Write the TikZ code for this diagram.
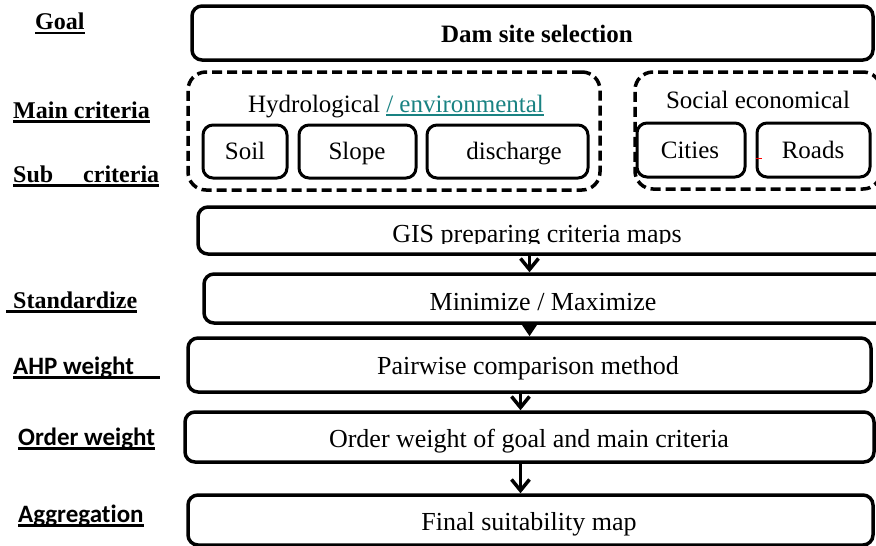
\documentclass[tikz,border=0pt]{standalone}
\usepackage{fontspec}
\setmainfont{Liberation Serif}
\newfontfamily\calfont{Carlito}[Ligatures=NoCommon]
\usetikzlibrary{arrows.meta}

\definecolor{envteal}{RGB}{25,130,130}

\newcommand{\boldul}[1]{\leavevmode\setbox0=\hbox{#1}\rlap{\rule[-4.5pt]{\wd0}{2.6pt}}\box0}
\newcommand{\thinul}[1]{\leavevmode\setbox0=\hbox{#1}\rlap{\rule[-3.5pt]{\wd0}{1.2pt}}\box0}

\begin{document}
\begin{tikzpicture}[x=1pt, y=-1pt,
    box/.style={draw, line width=3.5pt, rounded corners=10pt, inner sep=0pt},
    subbox/.style={draw, line width=3pt, rounded corners=10pt, inner sep=0pt, minimum height=53pt},
    group/.style={draw, line width=3.5pt, dash pattern=on 10pt off 5pt, rounded corners=18pt, inner sep=0pt},
    txt/.style={anchor=base, inner sep=0pt, font=\fontsize{25}{30}\selectfont},
    bigtxt/.style={anchor=base, inner sep=0pt, font=\fontsize{26}{31}\selectfont},
    lab/.style={anchor=base west, inner sep=0pt, font=\fontsize{24}{28}\selectfont\bfseries},
    slab/.style={anchor=base west, inner sep=0pt, font=\fontsize{25}{30}\selectfont\calfont\bfseries},
    flow/.style={line width=3.5pt, -{Straight Barb[length=11pt, width=18pt]}},
    fflow/.style={line width=3.5pt, -{Triangle[length=12pt, width=15pt]}},
  ]

      \useasboundingbox (0,0) rectangle (876,546);

      % left column
      \node[lab] (lgoal) at (35,30) {\boldul{Goal}};
      \node[lab] (lmain) at (13,118) {\boldul{Main criteria}};
      \node[lab] (lsub) at (13,182) {\boldul{Sub\hspace{30pt}criteria}};
      \node[lab] (lstand) at (6,308) {\boldul{\hspace{7pt}Standardize}};
      \node[slab] (lahp) at (13,374) {\boldul{AHP weight\hspace{26pt}}};
      \node[slab] (lorder) at (18,445) {\boldul{Order weight}};
      \node[slab] (laggr) at (18,522) {\boldul{Aggregation}};

      % goal
      \node[box, minimum width=681pt, minimum height=54pt] (goal) at (532.5,33) {};
      \node[bigtxt, font=\fontsize{25}{30}\selectfont\bfseries] (goaltext) at (537,42) {Dam site selection};

      % main and sub criteria
      \node[group, minimum width=412pt, minimum height=118pt] (hydro) at (394,131) {};
      \node[txt] (hydrotitle) at (396,112) {Hydrological \textcolor{envteal}{\thinul{/ environmental}}};
      \node[subbox, minimum width=84pt] (soil) at (245,151.5) {};
      \node[subbox, minimum width=117pt] (slope) at (357.5,151.5) {};
      \node[subbox, minimum width=161pt] (discharge) at (507.5,151.5) {};
      \node[txt] (soiltext) at (245,159) {Soil};
      \node[txt] (slopetext) at (357,159) {Slope};
      \node[txt] (dischargetext) at (514,159) {discharge};

      \node[group, minimum width=246pt, minimum height=117pt] (social) at (758,130.5) {};
      \node[txt] (socialtitle) at (758,108) {Social economical};
      \node[subbox, minimum width=108pt, minimum height=54pt] (cities) at (691,150) {};
      \node[subbox, minimum width=113pt, minimum height=54pt] (roads) at (813.5,150) {};
      \node[txt] (citiestext) at (690,158) {Cities};
      \node[txt] (roadstext) at (813,158) {Roads};
      \draw[red, line width=1pt] (756,158) -- (762,158);

      % process chain
      \node[box, minimum width=697pt, minimum height=47pt] (gis) at (546.5,230.5) {};
      \begin{scope}
        \clip (198,209) rectangle (876,243);
        \node[bigtxt] (gistext) at (537,242) {GIS preparing criteria maps};
      \end{scope}

      \node[box, minimum width=691pt, minimum height=49pt] (minimize) at (549.5,298.5) {};
      \node[bigtxt] (minimizetext) at (543,310) {Minimize / Maximize};

      \node[box, minimum width=683pt, minimum height=54pt] (pairwise) at (529.5,365) {};
      \node[bigtxt] (pairwisetext) at (528,374) {Pairwise comparison method};

      \node[box, minimum width=689pt, minimum height=50pt] (order) at (529.5,437) {};
      \begin{scope}
        \clip (186,414) rectangle (874,452.5);
        \node[bigtxt] (ordertext) at (529,447) {Order weight of goal and main criteria};
      \end{scope}

      \node[box, minimum width=685pt, minimum height=50pt] (final) at (530.5,520) {};
      \node[bigtxt] (finaltext) at (529,530) {Final suitability map};

      \draw[flow] (gis.south -| pairwise.north) -- (minimize.north -| pairwise.north);
      \draw[fflow] (minimize.south -| pairwise.north) -- (pairwise.north);
      \coordinate (pj) at ([xshift=-9pt]pairwise.south);
      \draw[flow] (pj) -- (pj |- order.north);
      \coordinate (oj) at ([xshift=-9pt]order.south);
      \draw[flow] (oj) -- (oj |- final.north);
    \end{tikzpicture}
\end{document}
